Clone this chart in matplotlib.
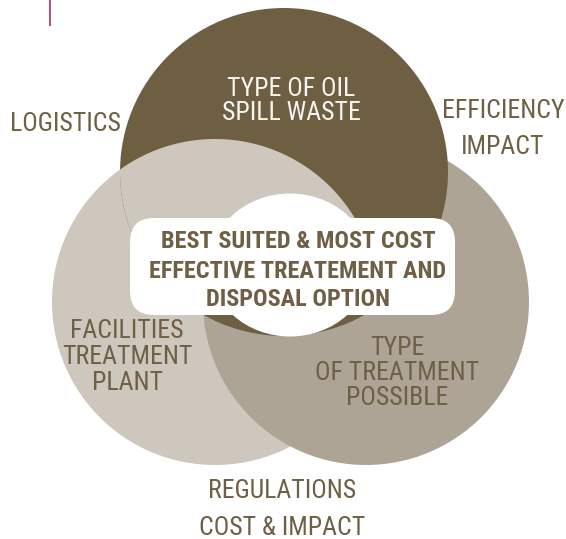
import matplotlib
matplotlib.use("Agg")
import matplotlib.pyplot as plt
from matplotlib import font_manager
from matplotlib.patches import Circle, Ellipse, FancyBboxPatch, Polygon
import numpy as np

# texts of the diagram
top_label = ["TYPE OF OIL", "SPILL WASTE"]
left_label = ["FACILITIES", "TREATMENT", "PLANT"]
right_label = ["TYPE", "OF TREATMENT", "POSSIBLE"]
centre_label = ["BEST SUITED & MOST COST", "EFFECTIVE TREATEMENT AND", "DISPOSAL OPTION"]
outer_left = ["LOGISTICS"]
outer_right = ["EFFICIENCY", "IMPACT"]
outer_bottom = ["REGULATIONS", "COST & IMPACT"]

DARK = "#6e5f43"
MEDIUM = "#aea495"
LIGHT = "#cdc7bd"
TEXT = "#6e5f45"
ACCENT = "#a8305f"


def pick_font(names):
    for n in names:
        try:
            font_manager.findfont(font_manager.FontProperties(family=n),
                                  fallback_to_default=False)
            return n
        except ValueError:
            continue
    return "DejaVu Sans"


FONT = pick_font(["Liberation Sans Narrow", "Roboto Condensed",
                  "Open Sans Condensed", "Roboto"])


def put_lines(ax, lines, x, baselines, size, color, weight="normal"):
    for line, y in zip(lines, baselines):
        ax.text(x, y, line, ha="center", va="baseline", fontsize=size,
                color=color, fontweight=weight, family=FONT, zorder=10)


fig = plt.figure(figsize=(5.66, 5.39), dpi=100)
ax = fig.add_axes([0, 0, 1, 1])
ax.set_xlim(0, 566)
ax.set_ylim(539, 0)
ax.axis("off")

light_c = ((215, 302), 163)
medium_c = ((366, 302), 163)
dark_c = ((284, 172), 164)

ax.add_patch(Circle(*light_c, fc=LIGHT, ec="none", zorder=1))
ax.add_patch(Circle(*medium_c, fc=MEDIUM, ec="none", zorder=2))
ax.add_patch(Circle(*dark_c, fc=DARK, ec="none", zorder=3))

# upper part of the light circle lies over the dark one (cyclic overlap)
(cx, cy), r = light_c
cut = 265
t = np.linspace(0, 2 * np.pi, 721)
px, py = cx + r * np.cos(t), cy + r * np.sin(t)
py = np.minimum(py, cut)
upper = Polygon(np.column_stack([px, py]), closed=True, fc=LIGHT, ec="none", zorder=4)
ax.add_patch(upper)
upper.set_clip_path(Circle(*dark_c, transform=ax.transData))

ax.add_patch(Ellipse((290, 265), 160, 143, fc="white", ec="none", zorder=6))
ax.add_patch(FancyBboxPatch((130, 218), 325, 97,
                            boxstyle="round,pad=0,rounding_size=24",
                            fc="white", ec="none", zorder=7))

ax.plot([50, 50], [0, 26], color=ACCENT, lw=1.2, solid_capstyle="butt")

put_lines(ax, top_label, 291, [96, 119.5], 18.5, "#f7f5f0")
put_lines(ax, left_label, 127, [338, 364, 390], 18.5, TEXT)
put_lines(ax, right_label, 397, [355, 380, 405], 18.5, TEXT)
put_lines(ax, centre_label, 298, [248, 277.5, 306], 17.5, TEXT, weight="bold")
put_lines(ax, outer_left, 65, [131], 18.5, TEXT)
put_lines(ax, outer_right, 503, [118, 154], 18.5, TEXT)
put_lines(ax, outer_bottom, 282, [498, 535], 18.5, TEXT)

fig.savefig("out.png", dpi=100)
plt.close(fig)
